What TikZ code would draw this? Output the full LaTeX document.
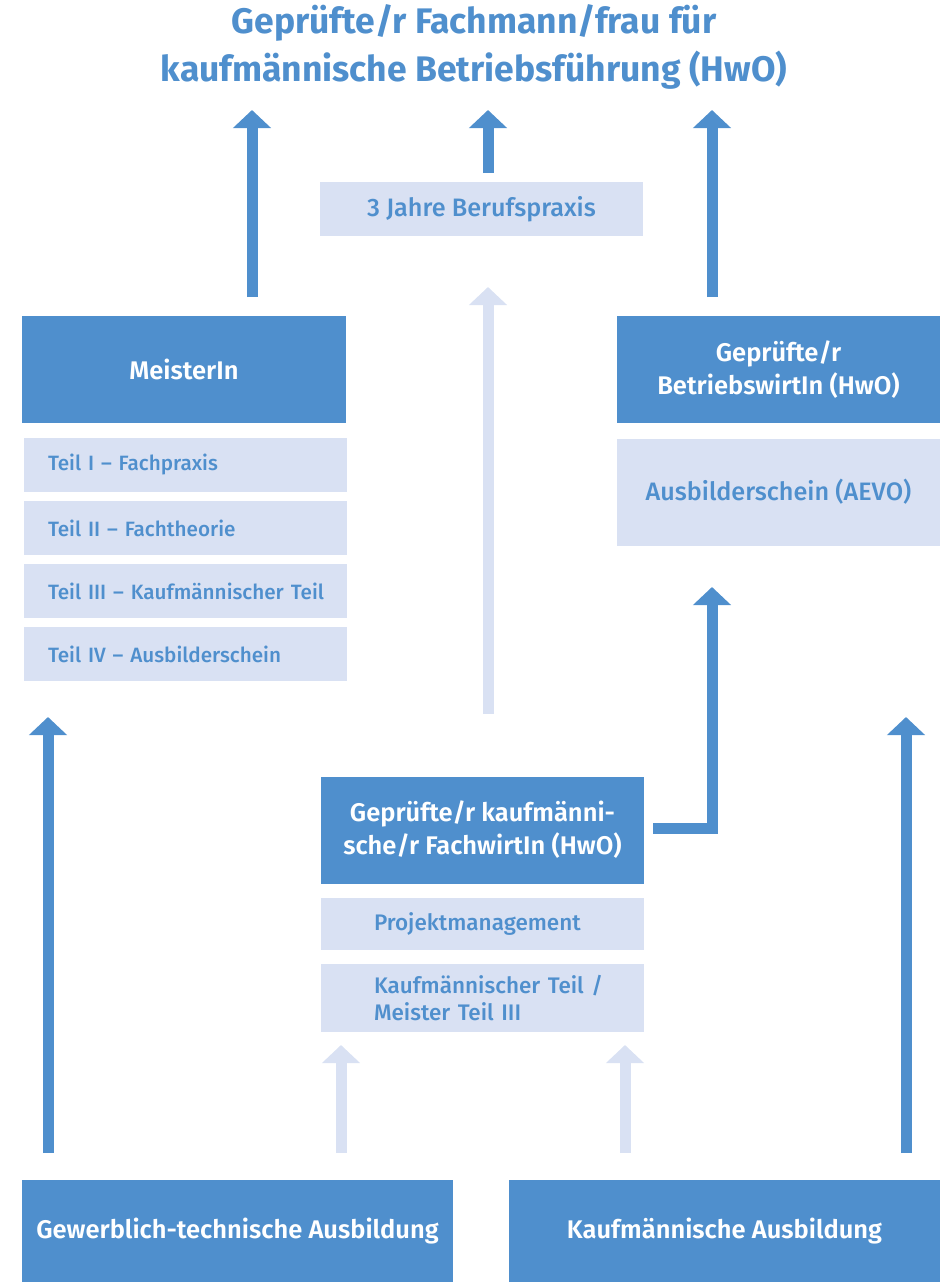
\documentclass[tikz,border=0pt]{standalone}
\usepackage{fontspec}
\setmainfont{Fira Sans}
\newfontfamily\medfont{Fira Sans Medium}
\newfontfamily\sbfont{Fira Sans SemiBold}
\newfontfamily\bfont{Fira Sans Bold}
\usetikzlibrary{arrows.meta}
\definecolor{dblue}{RGB}{79,143,205}
\definecolor{lblue}{RGB}{217,225,243}
\tikzset{
  dbox/.style={fill=dblue,draw=none,inner sep=0pt,text=white,font=\sbfont\fontsize{25.5}{33}\selectfont,align=center},
  lbox/.style={fill=lblue,draw=none,inner sep=0pt,text=dblue,font=\medfont\fontsize{20.7}{27.5}\selectfont},
  teilbox/.style={lbox,minimum width=323pt,minimum height=54pt,text width=275pt,align=left},
  darr/.style={draw=dblue,line width=11pt,-{Triangle[length=18pt,width=37pt]}},
  larr/.style={draw=lblue,line width=11pt,-{Triangle[length=18pt,width=37pt]}},
}
\begin{document}
\begin{tikzpicture}[x=1pt,y=-1pt]
\useasboundingbox (0,0) rectangle (947,1282);
% title
\node[text=dblue,font=\bfont\fontsize{35.5}{48}\selectfont,align=center] (title) at (474,47) {Geprüfte/r Fachmann/frau für\\kaufmännische Betriebsführung (HwO)};
% boxes
\node[lbox,minimum width=323pt,minimum height=54pt,font=\medfont\fontsize{25.2}{30}\selectfont] (praxis) at (481.5,209) {3 Jahre Berufspraxis};
\node[dbox,minimum width=324pt,minimum height=107pt] (meister) at (184,369.5) {MeisterIn};
\node[teilbox] (t1) at (185.5,465) {\mbox{Teil I – Fachpraxis}};
\node[teilbox] (t2) at (185.5,528) {\mbox{Teil II – Fachtheorie}};
\node[teilbox] (t3) at (185.5,591) {\mbox{Teil III – Kaufmännischer Teil}};
\node[teilbox] (t4) at (185.5,654) {\mbox{Teil IV – Ausbilderschein}};
\node[dbox,minimum width=323pt,minimum height=107pt] (bw) at (778.5,369.5) {Geprüfte/r\\BetriebswirtIn (HwO)};
\node[lbox,minimum width=323pt,minimum height=107pt,font=\medfont\fontsize{25.2}{30}\selectfont] (aevo) at (778.5,492) {Ausbilderschein (AEVO)};
\node[dbox,minimum width=323pt,minimum height=107pt] (fw) at (482.5,830) {Geprüfte/r kaufmänni-\\sche/r FachwirtIn (HwO)};
\node[lbox,minimum width=323pt,minimum height=52pt,text width=290pt,align=left,font=\medfont\fontsize{22.5}{27.5}\selectfont] (pm) at (482.5,924) {\hspace*{36.5pt}Projektmanagement};
\node[lbox,minimum width=323pt,minimum height=68pt,text width=290pt,align=left,font=\medfont\fontsize{22.5}{27.5}\selectfont] (kt) at (482.5,998) {\hspace*{36.5pt}Kaufmännischer Teil /\\\hspace*{36.5pt}Meister Teil III};
\node[dbox,minimum width=431pt,minimum height=102pt] (gew) at (237.5,1231) {Gewerblich-technische Ausbildung};
\node[dbox,minimum width=431pt,minimum height=102pt] (kfm) at (724.5,1231) {Kaufmännische Ausbildung};
% arrow coordinates
\coordinate (a1s) at (252,297); \coordinate (a1e) at (252,110);
\coordinate (a2s) at (488,173); \coordinate (a2e) at (488,110);
\coordinate (a3s) at (712,297); \coordinate (a3e) at (712,110);
\coordinate (lms) at (488,714); \coordinate (lme) at (488,287);
\coordinate (els) at (653,828); \coordinate (elc) at (712,828); \coordinate (ele) at (712,587);
\coordinate (bls) at (48,1153); \coordinate (ble) at (48,717);
\coordinate (brs) at (906,1153); \coordinate (bre) at (906,717);
\coordinate (l1s) at (341,1153); \coordinate (l1e) at (341,1045);
\coordinate (l2s) at (625,1153); \coordinate (l2e) at (625,1045);
\draw[darr] (a1s) -- (a1e);
\draw[darr] (a2s) -- (a2e);
\draw[darr] (a3s) -- (a3e);
\draw[larr] (lms) -- (lme);
\draw[darr,line join=miter] (els) -- (elc) -- (ele);
\draw[darr] (bls) -- (ble);
\draw[darr] (brs) -- (bre);
\draw[larr] (l1s) -- (l1e);
\draw[larr] (l2s) -- (l2e);
\end{tikzpicture}
\end{document}
